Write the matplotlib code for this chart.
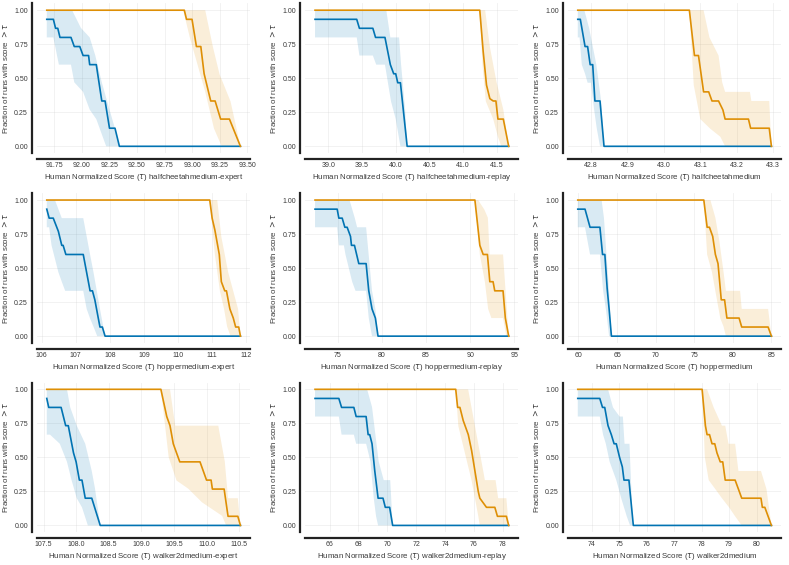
import numpy as np
import matplotlib
matplotlib.use("Agg")
import matplotlib.pyplot as plt
from matplotlib.ticker import MultipleLocator, FormatStrFormatter

ENVS = ["halfcheetahmedium-expert", "halfcheetahmedium-replay", "halfcheetahmedium",
        "hoppermedium-expert", "hoppermedium-replay", "hoppermedium",
        "walker2dmedium-expert", "walker2dmedium-replay", "walker2dmedium"]
TICK_STEP = [0.25, 0.5, 0.1, 1, 5, 5, 0.5, 2, 1]

# blue run (score profile)
BLUE_X = [
    [91.68, 91.74, 91.76, 91.78, 91.80, 91.90, 91.93, 91.98, 92.01, 92.06, 92.07, 92.13, 92.18, 92.21, 92.25, 92.30, 92.34, 93.44],
    [38.80, 39.42, 39.46, 39.66, 39.70, 39.84, 39.92, 39.97, 40.00, 40.03, 40.07, 40.17, 41.68],
    [42.764, 42.771, 42.784, 42.791, 42.798, 42.805, 42.811, 42.825, 42.836, 43.295],
    [106.15, 106.22, 106.34, 106.49, 106.59, 106.63, 106.71, 107.22, 107.37, 107.42, 107.49, 107.56, 107.66, 107.71, 107.78, 107.86, 111.83],
    [72.41, 74.92, 75.11, 75.49, 75.79, 76.05, 76.43, 76.54, 76.88, 77.37, 78.20, 78.50, 78.87, 79.25, 79.55, 94.36],
    [59.91, 60.85, 61.50, 62.78, 63.12, 63.42, 63.72, 63.97, 64.27, 85.0],
    [107.55, 107.58, 107.77, 107.84, 107.88, 107.96, 108.00, 108.05, 108.09, 108.14, 108.24, 108.37, 110.52],
    [64.99, 66.64, 66.83, 67.68, 67.84, 68.53, 68.67, 68.78, 68.94, 69.13, 69.36, 69.70, 69.86, 70.16, 70.37, 78.41],
    [73.50, 74.30, 74.40, 74.48, 74.60, 74.72, 74.82, 74.90, 75.02, 75.12, 75.18, 75.36, 75.52, 80.54],
]
BLUE_Y = [
    [0.933, 0.933, 0.867, 0.867, 0.8, 0.8, 0.733, 0.733, 0.667, 0.667, 0.6, 0.6, 0.333, 0.333, 0.133, 0.133, 0.0, 0.0],
    [0.933, 0.933, 0.867, 0.867, 0.8, 0.8, 0.6, 0.533, 0.533, 0.467, 0.467, 0.0, 0.0],
    [0.933, 0.933, 0.733, 0.733, 0.6, 0.6, 0.333, 0.333, 0.0, 0.0],
    [0.933, 0.867, 0.867, 0.77, 0.667, 0.667, 0.6, 0.6, 0.4, 0.333, 0.333, 0.267, 0.133, 0.067, 0.067, 0.0, 0.0],
    [0.933, 0.933, 0.867, 0.867, 0.8, 0.8, 0.733, 0.667, 0.667, 0.533, 0.533, 0.333, 0.2, 0.133, 0.0, 0.0],
    [0.933, 0.933, 0.8, 0.8, 0.6, 0.6, 0.35, 0.2, 0.0, 0.0],
    [0.933, 0.867, 0.867, 0.733, 0.733, 0.533, 0.467, 0.333, 0.333, 0.2, 0.2, 0.0, 0.0],
    [0.933, 0.933, 0.867, 0.867, 0.8, 0.8, 0.667, 0.667, 0.6, 0.4, 0.2, 0.2, 0.133, 0.133, 0.0, 0.0],
    [0.933, 0.933, 0.867, 0.867, 0.733, 0.667, 0.6, 0.6, 0.5, 0.43, 0.333, 0.333, 0.0, 0.0],
]
BLUE_HI_X = [
    [91.68, 91.91, 91.99, 92.07, 92.12, 92.18, 92.25, 92.30, 92.34],
    [38.80, 39.86, 39.92, 40.05, 40.08, 40.14, 40.17],
    [42.764, 42.782, 42.795, 42.815, 42.828, 42.836],
    [106.15, 106.39, 106.59, 107.22, 107.42, 107.52, 107.71, 107.86],
    [72.41, 76.32, 76.92, 77.18, 78.20, 78.87, 79.25, 79.55],
    [59.91, 63.0, 63.3, 63.63, 63.97, 64.27],
    [107.55, 107.86, 107.91, 108.01, 108.14, 108.24, 108.29, 108.37],
    [64.99, 68.60, 68.94, 69.17, 69.40, 69.75, 70.20, 70.37],
    [73.50, 74.60, 74.78, 75.02, 75.14, 75.20, 75.38, 75.50],
]
BLUE_HI_Y = [
    [1, 1, 0.87, 0.8, 0.67, 0.47, 0.27, 0.13, 0],
    [1, 1, 0.8, 0.8, 0.6, 0.27, 0],
    [1, 1, 0.87, 0.6, 0.333, 0],
    [1, 1, 0.867, 0.867, 0.6, 0.47, 0.2, 0],
    [1, 1, 0.867, 0.8, 0.8, 0.333, 0.2, 0],
    [1, 1, 0.87, 0.6, 0.333, 0],
    [1, 1, 0.867, 0.733, 0.6, 0.4, 0.27, 0],
    [1, 1, 0.87, 0.67, 0.47, 0.333, 0.333, 0],
    [1, 1, 0.867, 0.8, 0.8, 0.6, 0.6, 0],
]
BLUE_LO_X = [
    [91.68, 91.74, 91.79, 91.90, 91.93, 92.01, 92.07, 92.13, 92.22],
    [38.80, 39.42, 39.46, 39.66, 39.71, 39.84, 39.93, 40.00, 40.07],
    [42.764, 42.769, 42.775, 42.784, 42.791, 42.800, 42.809, 42.816, 42.825],
    [106.15, 106.22, 106.29, 106.49, 106.59, 106.69, 107.22, 107.32, 107.42, 107.52, 107.63],
    [72.41, 74.92, 75.11, 75.68, 75.86, 76.62, 77.00, 78.20, 78.50, 78.87],
    [59.91, 60.85, 61.50, 62.78, 63.2, 63.55, 63.97],
    [107.55, 107.60, 107.75, 107.86, 107.93, 108.01, 108.09, 108.18],
    [64.99, 66.64, 66.83, 67.68, 67.84, 68.53, 68.83, 69.06, 69.22, 69.36],
    [73.50, 74.30, 74.42, 74.52, 74.66, 74.90, 75.08, 75.28, 75.40],
]
BLUE_LO_Y = [
    [0.8, 0.8, 0.6, 0.6, 0.47, 0.4, 0.27, 0.2, 0.0],
    [0.8, 0.8, 0.667, 0.667, 0.6, 0.6, 0.33, 0.2, 0.0],
    [0.8, 0.8, 0.6, 0.533, 0.467, 0.467, 0.267, 0.133, 0.0],
    [0.8, 0.8, 0.667, 0.47, 0.4, 0.333, 0.333, 0.2, 0.13, 0.07, 0.0],
    [0.8, 0.8, 0.667, 0.667, 0.6, 0.4, 0.333, 0.333, 0.133, 0.0],
    [0.8, 0.8, 0.6, 0.6, 0.333, 0.2, 0.0],
    [0.667, 0.667, 0.6, 0.467, 0.333, 0.2, 0.133, 0.0],
    [0.8, 0.8, 0.667, 0.667, 0.6, 0.6, 0.47, 0.2, 0.067, 0.0],
    [0.8, 0.8, 0.667, 0.6, 0.467, 0.333, 0.2, 0.067, 0.0],
]

# orange run
ORANGE_X = [
    [91.68, 92.93, 92.95, 93.00, 93.04, 93.08, 93.11, 93.17, 93.21, 93.26, 93.34, 93.44],
    [38.80, 41.25, 41.30, 41.35, 41.40, 41.45, 41.49, 41.52, 41.60, 41.68],
    [42.764, 43.070, 43.084, 43.095, 43.109, 43.123, 43.132, 43.150, 43.162, 43.168, 43.232, 43.238, 43.289, 43.295],
    [106.15, 110.93, 111.00, 111.08, 111.21, 111.27, 111.37, 111.42, 111.52, 111.62, 111.69, 111.78, 111.83],
    [72.41, 90.53, 90.90, 91.09, 91.47, 91.95, 92.22, 92.59, 92.78, 93.72, 93.98, 94.36],
    [59.91, 76.24, 76.67, 76.97, 77.39, 77.74, 78.08, 78.50, 78.93, 79.23, 80.81, 81.15, 84.57, 85.0],
    [107.55, 109.30, 109.39, 109.44, 109.49, 109.54, 109.59, 109.90, 109.95, 110.00, 110.07, 110.09, 110.27, 110.33, 110.48, 110.52],
    [64.99, 74.74, 74.87, 75.03, 75.26, 75.61, 75.84, 76.07, 76.30, 76.41, 76.87, 77.45, 77.63, 78.25, 78.41],
    [73.50, 78.02, 78.14, 78.20, 78.29, 78.38, 78.48, 78.56, 78.68, 78.77, 78.86, 79.22, 79.34, 79.46, 80.16, 80.21, 80.30, 80.54],
]
ORANGE_Y = [
    [1, 1, 0.933, 0.933, 0.733, 0.733, 0.533, 0.333, 0.333, 0.2, 0.2, 0.0],
    [1, 1, 0.7, 0.45, 0.35, 0.333, 0.333, 0.2, 0.2, 0.0],
    [1, 1, 0.667, 0.667, 0.4, 0.4, 0.333, 0.333, 0.267, 0.2, 0.2, 0.133, 0.133, 0.0],
    [1, 1, 0.867, 0.78, 0.6, 0.4, 0.333, 0.333, 0.2, 0.133, 0.067, 0.067, 0.0],
    [1, 1, 0.78, 0.667, 0.6, 0.6, 0.4, 0.4, 0.333, 0.333, 0.133, 0.0],
    [1, 1, 0.8, 0.8, 0.733, 0.6, 0.533, 0.267, 0.267, 0.133, 0.133, 0.067, 0.067, 0.0],
    [1, 1, 0.8, 0.733, 0.6, 0.533, 0.467, 0.467, 0.4, 0.333, 0.333, 0.267, 0.267, 0.067, 0.067, 0.0],
    [1, 1, 0.867, 0.867, 0.77, 0.667, 0.55, 0.4, 0.25, 0.2, 0.133, 0.133, 0.067, 0.067, 0.0],
    [1, 1, 0.733, 0.667, 0.667, 0.6, 0.6, 0.533, 0.467, 0.467, 0.333, 0.333, 0.267, 0.2, 0.2, 0.133, 0.133, 0.0],
]
ORANGE_HI_X = [
    [91.68, 93.12, 93.19, 93.25, 93.35, 93.44],
    [38.80, 41.33, 41.40, 41.50, 41.60, 41.68],
    [42.764, 43.109, 43.125, 43.150, 43.160, 43.168, 43.236, 43.240, 43.289, 43.295],
    [106.15, 111.15, 111.27, 111.47, 111.76, 111.83],
    [72.41, 90.90, 91.60, 92.00, 92.20, 93.72, 94.36],
    [59.91, 77.09, 77.74, 78.25, 78.80, 79.10, 80.94, 81.15, 84.57, 85.0],
    [107.55, 109.44, 109.52, 110.18, 110.28, 110.33, 110.48, 110.52],
    [64.99, 75.60, 76.30, 76.76, 77.50, 77.68, 78.25, 78.41],
    [73.50, 78.20, 78.44, 78.74, 78.86, 78.98, 79.22, 79.34, 80.16, 80.36, 80.54],
]
ORANGE_HI_Y = [
    [1, 1, 0.73, 0.53, 0.33, 0],
    [1, 1, 0.73, 0.47, 0.27, 0],
    [1, 1, 0.8, 0.667, 0.47, 0.4, 0.4, 0.333, 0.333, 0],
    [1, 1, 0.73, 0.47, 0.2, 0],
    [1, 1, 0.93, 0.87, 0.6, 0.6, 0],
    [1, 1, 0.87, 0.7, 0.47, 0.333, 0.333, 0.2, 0.2, 0],
    [1, 1, 0.733, 0.733, 0.47, 0.2, 0.2, 0],
    [1, 1, 0.6, 0.333, 0.333, 0.2, 0.2, 0],
    [1, 1, 0.867, 0.733, 0.733, 0.6, 0.6, 0.4, 0.4, 0.267, 0],
]
ORANGE_LO_X = [
    [91.68, 92.92, 92.98, 93.05, 93.12, 93.20, 93.27],
    [38.80, 41.25, 41.29, 41.34, 41.45, 41.52, 41.57],
    [42.764, 43.070, 43.082, 43.100, 43.127, 43.155, 43.168],
    [106.15, 110.93, 111.08, 111.23, 111.35, 111.44, 111.54],
    [72.41, 90.53, 91.09, 91.66, 92.03, 92.40, 93.72, 94.09],
    [59.91, 76.24, 76.67, 77.30, 77.74, 78.38, 78.80, 79.10],
    [107.55, 109.30, 109.42, 109.54, 109.72, 109.93, 110.24, 110.30],
    [64.99, 74.74, 74.92, 75.38, 75.84, 76.30, 76.41],
    [73.50, 78.02, 78.12, 78.26, 78.50, 78.74, 79.00, 79.22, 79.46],
]
ORANGE_LO_Y = [
    [1, 1, 0.8, 0.6, 0.4, 0.13, 0],
    [1, 1, 0.6, 0.33, 0.2, 0.07, 0],
    [1, 1, 0.45, 0.2, 0.13, 0.07, 0],
    [1, 1, 0.6, 0.33, 0.2, 0.07, 0],
    [1, 1, 0.6, 0.4, 0.2, 0.133, 0.133, 0],
    [1, 1, 0.6, 0.47, 0.33, 0.13, 0.07, 0],
    [1, 1, 0.5, 0.33, 0.27, 0.17, 0.07, 0],
    [1, 1, 0.73, 0.53, 0.33, 0.07, 0],
    [1, 1, 0.5, 0.333, 0.267, 0.2, 0.133, 0.067, 0],
]

BLUE = "#0173b2"
ORANGE = "#de8f05"
TEXT = "#3a3a3a"

plt.rcParams["font.family"] = ["Liberation Sans", "DejaVu Sans"]
plt.rcParams["mathtext.fontset"] = "dejavusans"

fig = plt.figure(figsize=(7.89, 5.65), dpi=100)
lefts = [0.047, 0.387, 0.720]
bottoms = [0.729, 0.393, 0.058]
w, h = 0.270, 0.265

def band(ax, hx, hy, lx, ly, color):
    px = np.concatenate([hx, lx[::-1]])
    py = np.concatenate([hy, ly[::-1]])
    ax.fill(px, py, color=color, alpha=0.15, lw=0)

for i, env in enumerate(ENVS):
    ax = fig.add_axes([lefts[i % 3], bottoms[i // 3], w, h])
    band(ax, BLUE_HI_X[i], BLUE_HI_Y[i], BLUE_LO_X[i], BLUE_LO_Y[i], BLUE)
    band(ax, ORANGE_HI_X[i], ORANGE_HI_Y[i], ORANGE_LO_X[i], ORANGE_LO_Y[i], ORANGE)
    ax.plot(BLUE_X[i], BLUE_Y[i], color=BLUE, lw=1.2)
    ax.plot(ORANGE_X[i], ORANGE_Y[i], color=ORANGE, lw=1.2)

    ax.set_yticks([0, 0.25, 0.5, 0.75, 1.0])
    ax.yaxis.set_major_formatter(FormatStrFormatter("%.2f"))
    ax.xaxis.set_major_locator(MultipleLocator(TICK_STEP[i]))
    ax.ticklabel_format(axis="x", useOffset=False)
    ax.grid(True, color="#cccccc", alpha=0.3, lw=0.6)
    ax.set_axisbelow(True)

    ax.spines["right"].set_visible(False)
    ax.spines["top"].set_visible(False)
    for s in ["left", "bottom"]:
        ax.spines[s].set_linewidth(1.6)
        ax.spines[s].set_color("#222222")
        ax.spines[s].set_position(("outward", 4))
    ax.tick_params(length=0.1, width=0.1, labelsize=5.0, colors=TEXT, pad=2.5)

    ax.set_ylabel(r"Fraction of runs with score $> \tau$", color=TEXT, fontsize=5.7, labelpad=3)
    ax.set_xlabel(r"Human Normalized Score ($\tau$) " + env, color=TEXT, fontsize=5.7, labelpad=2)

fig.savefig("out.png", dpi=100)
